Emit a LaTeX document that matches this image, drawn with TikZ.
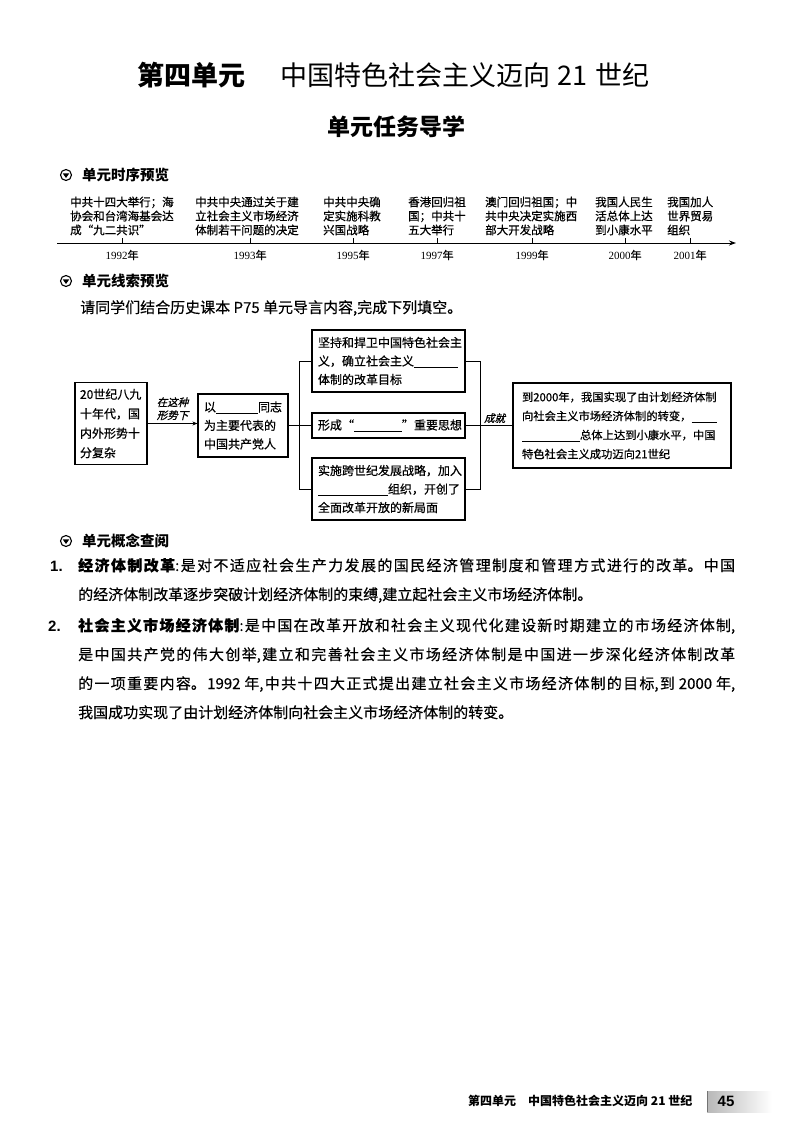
\documentclass[tikz,border=0pt]{standalone}
\usepackage{fontspec}
\setmainfont{Noto Sans CJK SC}
\newfontfamily\numfont{Liberation Serif}
\newfontfamily\lsans{Liberation Sans}
\newfontfamily\slcjk{Noto Sans CJK SC}[FakeSlant=0.25,FakeBold=0.8]
\newfontfamily\medcjk{Noto Sans CJK SC}[FakeBold=0.6]
\newfontfamily\bodycjk{Noto Sans CJK SC}[FakeBold=0.35]
\usetikzlibrary{arrows.meta}
\newcommand\blankline[1]{\rule[-2pt]{#1pt}{0.6pt}}
\begin{document}
\begin{tikzpicture}[x=1pt,y=-1pt,
  box/.style={draw, line width=1.2pt, align=left, inner ysep=0pt},
  conn/.style={line width=0.8pt},
  lbl/.style={inner sep=1pt, align=center, font=\slcjk\fontsize{10.5}{13}\selectfont},
  evt/.style={anchor=west, inner sep=0pt, align=left, font=\medcjk\fontsize{11.5}{14}\selectfont},
  yr/.style={inner sep=0pt, font=\medcjk\fontsize{11}{11}\selectfont},
  head/.style={anchor=west, inner sep=0pt, font=\bfseries\fontsize{14.5}{14.5}\selectfont},
  para/.style={anchor=base west, inner sep=0pt, text width=657pt, align=justify, font=\bodycjk\fontsize{15}{29}\selectfont},
  num/.style={anchor=base west, inner sep=0pt, font=\lsans\bfseries\fontsize{15}{15}\selectfont},
  secicon/.pic={\draw[line width=1.1pt] (0,0) circle[radius=5.5pt];
                \fill (-3.3pt,1.7pt) -- (3.3pt,1.7pt) -- (0pt,-3pt) -- cycle;}
]
\fill[white] (0,0) rectangle (800,1132);
\useasboundingbox (0,0) rectangle (800,1132);

% Title
\node[anchor=base west, inner sep=0pt, font=\fontsize{27}{27}\selectfont] (title) at (137,85)
  {\textbf{第四单元}\hspace{35pt}中国特色社会主义迈向\hspace{7pt}21\hspace{8pt}世纪};
\node[inner sep=0pt, font=\bfseries\fontsize{23}{23}\selectfont] (sub) at (396,127) {单元任务导学};

% Section 1: timeline
\pic at (66,175) {secicon};
\node[head] (h1) at (82,175) {单元时序预览};

\coordinate (t0) at (57,243);
\coordinate (t1) at (736,243);
\draw[line width=1pt,-{Stealth[length=7pt,width=5pt]}] (t0) -- (t1);
\foreach \x/\y in {122/1992,250/1993,353/1995,437/1997,532/1999,625/2000,690/2001}{
  \draw[line width=0.8pt] (\x,243) -- (\x,238);
  \node[yr] (y\y) at (\x,255) {{\numfont\y}年};
}
\node[evt] (e1) at (70,216) {中共十四大举行；海\\协会和台湾海基会达\\成“九二共识”};
\node[evt] (e2) at (195,216) {中共中央通过关于建\\立社会主义市场经济\\体制若干问题的决定};
\node[evt] (e3) at (323,216) {中共中央确\\定实施科教\\兴国战略};
\node[evt] (e4) at (408,216) {香港回归祖\\国；中共十\\五大举行};
\node[evt] (e5) at (485,216) {澳门回归祖国；中\\共中央决定实施西\\部大开发战略};
\node[evt] (e6) at (595,216) {我国人民生\\活总体上达\\到小康水平};
\node[evt] (e7) at (667,216) {我国加人\\世界贸易\\组织};

% Section 2: flow chart
\pic at (66,281) {secicon};
\node[head] (h2) at (82,281) {单元线索预览};
\node[anchor=west, inner sep=0pt, font=\bodycjk\fontsize{15}{15}\selectfont] (instr) at (80,308)
  {请同学们结合历史课本 P75 单元导言内容,完成下列填空。};

\node[box, text width=62pt, inner xsep=5pt, minimum height=82pt,
      font=\medcjk\fontsize{12}{19.5}\selectfont] (A) at (111,423.5)
  {20世纪八九\\十年代，国\\内外形势十\\分复杂};
\node[box, text width=78pt, inner xsep=6pt, minimum height=63pt,
      font=\medcjk\fontsize{12}{18.5}\selectfont] (B) at (243,425.5)
  {以\blankline{42}同志\\为主要代表的\\中国共产党人};
\node[box, text width=141pt, inner xsep=6pt, minimum height=62pt,
      font=\medcjk\fontsize{12}{18.5}\selectfont] (C1) at (388.5,361)
  {坚持和捍卫中国特色社会主\\义，确立社会主义\blankline{44}\\体制的改革目标};
\node[box, text width=141pt, inner xsep=6pt, minimum height=25pt,
      font=\medcjk\fontsize{12}{18.5}\selectfont] (C2) at (388.5,425.5)
  {形成“\blankline{48}”重要思想};
\node[box, text width=141pt, inner xsep=6pt, minimum height=62pt,
      font=\medcjk\fontsize{12}{18.5}\selectfont] (C3) at (388.5,489)
  {实施跨世纪发展战略，加入\\\blankline{70}组织，开创了\\全面改革开放的新局面};
\node[box, text width=200pt, inner xsep=9pt, minimum height=85pt,
      font=\medcjk\fontsize{11.3}{19}\selectfont] (D) at (622,425.5)
  {到2000年，我国实现了由计划经济体制\\向社会主义市场经济体制的转变，\blankline{25}\\\blankline{58}总体上达到小康水平，中国\\特色社会主义成功迈向21世纪};

\draw[conn,-{Stealth[length=5pt,width=4pt]}] (A.east) -- (A.east -| B.west)
  node[midway, above=2pt, lbl] {在这种\\形势下};
\draw[conn] (B.east) -- (C2.west);
\draw[conn] (C1.west) -- ++(-12,0) |- (C3.west);
\draw[conn] (C1.east) -- ++(15,0) |- (C3.east);
\draw[conn] (C2.east) -- (D.west) node[pos=0.62, above=1pt, lbl] {成就};

% Section 3: concepts
\pic at (66,541) {secicon};
\node[head] (h3) at (82,541) {单元概念查阅};

\node[num] (n1) at (50,571) {1.};
\node[para] (p1) at (78,571) {\XeTeXlinebreaklocale "zh"\XeTeXlinebreakskip=0pt plus 4pt\relax
\textbf{经济体制改革}:是对不适应社会生产力发展的国民经济管理制度和管理方式进行的改革。中国\linebreak
的经济体制改革逐步突破计划经济体制的束缚,建立起社会主义市场经济体制。};

\node[num] (n2) at (48,631) {2.};
\node[para] (p2) at (78,631) {\XeTeXlinebreaklocale "zh"\XeTeXlinebreakskip=0pt plus 4pt\relax
\textbf{社会主义市场经济体制}:是中国在改革开放和社会主义现代化建设新时期建立的市场经济体制,\linebreak
是中国共产党的伟大创举,建立和完善社会主义市场经济体制是中国进一步深化经济体制改革\linebreak
的一项重要内容。1992 年,中共十四大正式提出建立社会主义市场经济体制的目标,到 2000 年,\linebreak
我国成功实现了由计划经济体制向社会主义市场经济体制的转变。};

% Footer
\node[anchor=west, inner sep=0pt, font=\bfseries\fontsize{12}{12}\selectfont] (foot) at (468,1101)
  {第四单元\hspace{12pt}中国特色社会主义迈向 21 世纪};
\shade[left color=black!28, right color=white] (707,1091) rectangle (772,1112);
\draw[black!55, line width=0.8pt] (707,1091) -- (707,1112);
\node[inner sep=0pt, font=\lsans\bfseries\fontsize{15}{15}\selectfont] (pn) at (726,1101.5) {45};
\end{tikzpicture}
\end{document}
